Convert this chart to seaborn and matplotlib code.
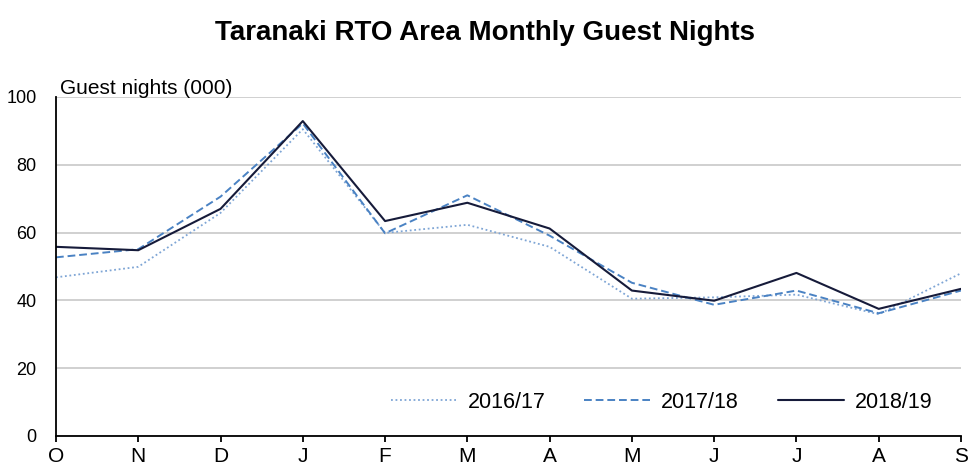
import matplotlib
matplotlib.use("Agg")
import matplotlib.pyplot as plt
import seaborn as sns
import pandas as pd

months = ["O", "N", "D", "J", "F", "M", "A", "M", "J", "J", "A", "S"]
s2016 = [46.8, 49.9, 65.8, 90.5, 59.9, 62.3, 55.8, 40.5, 40.9, 41.7, 35.9, 48.0]
s2017 = [52.7, 55.1, 70.6, 92.2, 59.8, 71.0, 59.1, 45.2, 38.7, 42.9, 36.2, 42.9]
s2018 = [55.8, 54.8, 67.0, 92.9, 63.4, 68.8, 61.2, 42.9, 39.9, 48.1, 37.5, 43.4]
series_names = ["2016/17", "2017/18", "2018/19"]

rows = []
for name, vals in zip(series_names, [s2016, s2017, s2018]):
    for i, v in enumerate(vals):
        rows.append({"idx": i, "value": v, "series": name})
df = pd.DataFrame(rows)

sns.set_theme(style="white")
plt.rcParams["font.family"] = ["Liberation Sans", "DejaVu Sans"]
plt.rcParams["text.color"] = "black"
plt.rcParams["xtick.color"] = "black"
plt.rcParams["ytick.color"] = "black"

fig = plt.figure(figsize=(9.7, 4.72), dpi=100)
ax = fig.add_axes([0.0577, 0.0763, 0.933, 0.7182])

palette = {"2016/17": "#7ea5d5", "2017/18": "#4a82c3", "2018/19": "#161b3a"}
styles = {"2016/17": (0, (1, 1.5)), "2017/18": (0, (4, 2)), "2018/19": "-"}
sizes = {"2016/17": 1.3, "2017/18": 1.4, "2018/19": 1.5}

for name in series_names:
    sub = df[df["series"] == name]
    sns.lineplot(data=sub, x="idx", y="value", color=palette[name],
                 linestyle=styles[name], linewidth=sizes[name], label=name, ax=ax)

ax.set_xlim(0, len(months) - 1)
ax.set_ylim(0, 100)
ax.set_yticks([0, 20, 40, 60, 80, 100])
ax.set_xticks(range(len(months)))
ax.set_xticklabels(months)
ax.tick_params(axis="x", labelsize=15, direction="out", length=4, width=1.3,
               bottom=True, pad=4, colors="black")
ax.tick_params(axis="y", labelsize=13, length=0, pad=14, colors="black")
ax.grid(axis="y", color="#c8c8c8", linewidth=1.2)
ax.grid(axis="x", visible=False)
for side in ["top", "right"]:
    ax.spines[side].set_visible(False)
for side in ["left", "bottom"]:
    ax.spines[side].set_color("black")
    ax.spines[side].set_linewidth(1.3)
ax.set_xlabel("")
ax.set_ylabel("")

ax.text(0.0044, 0.998, "Guest nights (000)", transform=ax.transAxes, fontsize=15,
        ha="left", va="bottom", color="black")
fig.text(0.5, 0.93, "Taranaki RTO Area Monthly Guest Nights", ha="center",
         va="center", fontsize=20, fontweight="bold", color="black")

leg = ax.legend(loc="center right", bbox_to_anchor=(0.968, 0.10), ncol=3,
                frameon=False, fontsize=15.5, handlelength=3.07, columnspacing=1.8,
                handletextpad=0.5, borderpad=0, borderaxespad=0)
for t in leg.get_texts():
    t.set_color("black")

fig.savefig("out.png", dpi=100, facecolor="white")
